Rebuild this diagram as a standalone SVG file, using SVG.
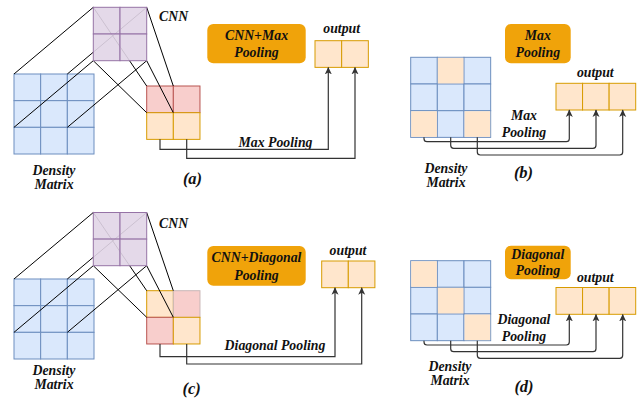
<svg xmlns="http://www.w3.org/2000/svg" width="644" height="399" viewBox="0 0 644 399">
<defs>
<style>
text{font-family:"Liberation Serif","Times New Roman",serif;font-weight:bold;font-style:italic;fill:#111;font-size:13.8px}
.c{text-anchor:middle}
.big{font-size:16.5px}
.blue{fill:#dae8fc;stroke:#6c8ebf;stroke-width:1}
.org{fill:#ffe6cc;stroke:#d79b00;stroke-width:1}
.orgf{fill:#ffe6cc;stroke:none}
.red{fill:#f8cecc;stroke:#b85450;stroke-width:1}
.pur{fill:#e1d5e7;fill-opacity:0.9;stroke:#9673a6;stroke-width:1}
.box{fill:#f0a30a;stroke:none}
.ln{stroke:#000;stroke-width:1;fill:none}
.con{stroke:#333;stroke-width:1.2;fill:none;marker-end:url(#arr)}
</style>
<marker id="arr" markerUnits="userSpaceOnUse" markerWidth="8" markerHeight="8" refX="7" refY="4" orient="auto">
<path d="M0,0.5 L7.5,4 L0,7.5 L2,4 Z" fill="#333"/>
</marker>
</defs>

<!-- Panel (a) -->
<g id="a-density">
<rect class="blue" x="14" y="74" width="26.67" height="26.67"/>
<rect class="blue" x="40.67" y="74" width="26.67" height="26.67"/>
<rect class="blue" x="67.33" y="74" width="26.67" height="26.67"/>
<rect class="blue" x="14" y="100.67" width="26.67" height="26.67"/>
<rect class="blue" x="40.67" y="100.67" width="26.67" height="26.67"/>
<rect class="blue" x="67.33" y="100.67" width="26.67" height="26.67"/>
<rect class="blue" x="14" y="127.33" width="26.67" height="26.67"/>
<rect class="blue" x="40.67" y="127.33" width="26.67" height="26.67"/>
<rect class="blue" x="67.33" y="127.33" width="26.67" height="26.67"/>
<text class="c" x="54" y="175">Density</text>
<text class="c" x="54" y="188.5">Matrix</text>
</g>
<g id="a-pool">
<rect class="red" x="146.7" y="86" width="26.67" height="26.67"/>
<rect class="red" x="173.3" y="86" width="26.67" height="26.67"/>
<rect class="org" x="146.7" y="112.7" width="26.67" height="26.67"/>
<rect class="org" x="173.3" y="112.7" width="26.67" height="26.67"/>
</g>
<g id="a-projection">
<line class="ln" x1="93.3" y1="7.3" x2="14" y2="74"/>
<line class="ln" x1="146.7" y1="7.3" x2="67.33" y2="74"/>
<line class="ln" x1="93.3" y1="60.7" x2="14" y2="127.33"/>
<line class="ln" x1="146.7" y1="60.7" x2="67.33" y2="127.33"/>
<line class="ln" x1="93.3" y1="7.3" x2="146.7" y2="86"/>
<line class="ln" x1="146.7" y1="7.3" x2="173.3" y2="86"/>
<line class="ln" x1="93.3" y1="60.7" x2="146.7" y2="112.7"/>
<line class="ln" x1="146.7" y1="60.7" x2="173.3" y2="112.7"/>
</g>
<g id="a-cnn">
<rect class="pur" x="93.3" y="7.3" width="26.7" height="26.7"/>
<rect class="pur" x="120" y="7.3" width="26.7" height="26.7"/>
<rect class="pur" x="93.3" y="34" width="26.7" height="26.7"/>
<rect class="pur" x="120" y="34" width="26.7" height="26.7"/>
<text x="159" y="20.7">CNN</text>
</g>
<g id="a-title">
<rect class="box" x="207.3" y="24" width="98.4" height="39.3" rx="6"/>
<text class="c" x="256.5" y="39.5">CNN+Max</text>
<text class="c" x="256.5" y="57.3">Pooling</text>
</g>
<g id="a-output">
<rect class="org" x="315" y="40.7" width="26.67" height="26.67"/>
<rect class="org" x="341.67" y="40.7" width="26.67" height="26.67"/>
<text class="c" x="341.7" y="33.3">output</text>
</g>
<text class="c big" x="192.5" y="184">(a)</text>

<!-- Panel (b) -->
<g id="b-density">
<rect class="blue" x="410.7" y="57.3" width="26.67" height="26.67"/>
<rect class="blue" x="437.3" y="57.3" width="26.67" height="26.67"/>
<rect class="blue" x="464" y="57.3" width="26.67" height="26.67"/>
<rect class="blue" x="410.7" y="84" width="26.67" height="26.67"/>
<rect class="blue" x="437.3" y="84" width="26.67" height="26.67"/>
<rect class="blue" x="464" y="84" width="26.67" height="26.67"/>
<rect class="blue" x="410.7" y="110.7" width="26.67" height="26.67"/>
<rect class="blue" x="437.3" y="110.7" width="26.67" height="26.67"/>
<rect class="blue" x="464" y="110.7" width="26.67" height="26.67"/>
<rect class="orgf" x="437.8" y="57.8" width="25.7" height="25.7"/>
<rect class="orgf" x="411.2" y="111.2" width="25.7" height="25.7"/>
<rect class="orgf" x="464.5" y="111.2" width="25.7" height="25.7"/>
<text class="c" x="446" y="173">Density</text>
<text class="c" x="446" y="187">Matrix</text>
</g>
<g id="b-title">
<rect class="box" x="505" y="24" width="65.7" height="39.3" rx="6"/>
<text class="c" x="537.8" y="39.5">Max</text>
<text class="c" x="537.8" y="57.3">Pooling</text>
</g>
<g id="b-output">
<rect class="org" x="556" y="83.3" width="26.57" height="26.7"/>
<rect class="org" x="582.57" y="83.3" width="26.57" height="26.7"/>
<rect class="org" x="609.13" y="83.3" width="26.57" height="26.7"/>
<text class="c" x="595.3" y="77.3">output</text>
</g>
<text class="c" x="524" y="120">Max</text>
<text class="c" x="524" y="136.7">Pooling</text>
<text class="c big" x="523.5" y="178.3">(b)</text>

<!-- Panel (c) -->
<g id="c-density">
<rect class="blue" x="14" y="279" width="26.67" height="26.67"/>
<rect class="blue" x="40.67" y="279" width="26.67" height="26.67"/>
<rect class="blue" x="67.33" y="279" width="26.67" height="26.67"/>
<rect class="blue" x="14" y="305.67" width="26.67" height="26.67"/>
<rect class="blue" x="40.67" y="305.67" width="26.67" height="26.67"/>
<rect class="blue" x="67.33" y="305.67" width="26.67" height="26.67"/>
<rect class="blue" x="14" y="332.33" width="26.67" height="26.67"/>
<rect class="blue" x="40.67" y="332.33" width="26.67" height="26.67"/>
<rect class="blue" x="67.33" y="332.33" width="26.67" height="26.67"/>
<text class="c" x="54" y="375">Density</text>
<text class="c" x="54" y="389">Matrix</text>
</g>
<g id="c-pool">
<rect class="org" x="146.7" y="290.7" width="26.67" height="26.67"/>
<rect fill="#f8cecc" stroke="#c9b8b8" stroke-width="1" x="173.3" y="290.7" width="26.67" height="26.67"/>
<rect class="red" x="146.7" y="317.3" width="26.67" height="26.67"/>
<rect class="org" x="173.3" y="317.3" width="26.67" height="26.67"/>
</g>
<g id="c-projection">
<line class="ln" x1="93.3" y1="212.5" x2="14" y2="279"/>
<line class="ln" x1="146.7" y1="212.5" x2="67.33" y2="279"/>
<line class="ln" x1="93.3" y1="265.7" x2="14" y2="332.33"/>
<line class="ln" x1="146.7" y1="265.7" x2="67.33" y2="332.33"/>
<line class="ln" x1="93.3" y1="212.5" x2="146.7" y2="290.7"/>
<line class="ln" x1="146.7" y1="212.5" x2="173.3" y2="290.7"/>
<line class="ln" x1="93.3" y1="265.7" x2="146.7" y2="317.3"/>
<line class="ln" x1="146.7" y1="265.7" x2="173.3" y2="317.3"/>
</g>
<g id="c-cnn">
<rect class="pur" x="93.3" y="212.5" width="26.7" height="26.6"/>
<rect class="pur" x="120" y="212.5" width="26.7" height="26.6"/>
<rect class="pur" x="93.3" y="239.1" width="26.7" height="26.6"/>
<rect class="pur" x="120" y="239.1" width="26.7" height="26.6"/>
<text x="159" y="228.3">CNN</text>
</g>
<g id="c-title">
<rect class="box" x="207.3" y="246" width="98.4" height="39.7" rx="6"/>
<text class="c" x="256.5" y="262">CNN+Diagonal</text>
<text class="c" x="256.5" y="280">Pooling</text>
</g>
<g id="c-output">
<rect class="org" x="321.7" y="261" width="26.6" height="26.7"/>
<rect class="org" x="348.3" y="261" width="26.6" height="26.7"/>
<text class="c" x="348" y="255">output</text>
</g>
<text class="c big" x="191.7" y="394">(c)</text>

<!-- Panel (d) -->
<g id="d-density">
<rect class="blue" x="410.7" y="260.7" width="26.67" height="26.67"/>
<rect class="blue" x="437.3" y="260.7" width="26.67" height="26.67"/>
<rect class="blue" x="464" y="260.7" width="26.67" height="26.67"/>
<rect class="blue" x="410.7" y="287.3" width="26.67" height="26.67"/>
<rect class="blue" x="437.3" y="287.3" width="26.67" height="26.67"/>
<rect class="blue" x="464" y="287.3" width="26.67" height="26.67"/>
<rect class="blue" x="410.7" y="314" width="26.67" height="26.67"/>
<rect class="blue" x="437.3" y="314" width="26.67" height="26.67"/>
<rect class="blue" x="464" y="314" width="26.67" height="26.67"/>
<rect class="orgf" x="411.2" y="261.2" width="25.7" height="25.7"/>
<rect class="orgf" x="437.8" y="287.8" width="25.7" height="25.7"/>
<rect class="orgf" x="464.5" y="314.5" width="25.7" height="25.7"/>
<text class="c" x="450" y="370.7">Density</text>
<text class="c" x="450" y="384.5">Matrix</text>
</g>
<g id="d-title">
<rect class="box" x="505" y="245.7" width="65.7" height="33.6" rx="6"/>
<text class="c" x="537.8" y="258.8">Diagonal</text>
<text class="c" x="537.8" y="275">Pooling</text>
</g>
<g id="d-output">
<rect class="org" x="556" y="287.5" width="26.57" height="26.8"/>
<rect class="org" x="582.57" y="287.5" width="26.57" height="26.8"/>
<rect class="org" x="609.13" y="287.5" width="26.57" height="26.8"/>
<text class="c" x="595.3" y="281.7">output</text>
</g>
<text class="c" x="524" y="324">Diagonal</text>
<text class="c" x="524" y="340.5">Pooling</text>
<text class="c big" x="524" y="391.7">(d)</text>

<text class="c" x="275.5" y="146.7">Max Pooling</text>
<text class="c" x="275" y="350">Diagonal Pooling</text>

<g id="connectors">
<path class="con" d="M160 139.3 V149.3 H328.3 V67.4" stroke="#666"/>
<path class="con" d="M186.7 139.3 V158.3 H355 V67.4"/>
<path class="con" d="M424 137.3 V138.7 Q424 141.7 427 141.7 H566.3 Q569.3 141.7 569.3 138.7 V110"/>
<path class="con" d="M450.7 137.3 V145.3 Q450.7 148.3 453.7 148.3 H593 Q596 148.3 596 145.3 V110"/>
<path class="con" d="M477.3 137.3 V152 Q477.3 155 480.3 155 H619.7 Q622.7 155 622.7 152 V110"/>
<path class="con" d="M160 344 V356.7 H335 V287.8"/>
<path class="con" d="M186.7 344 V364 H361.7 V287.8"/>
<path class="con" d="M424 340.7 V342 Q424 345 427 345 H566.3 Q569.3 345 569.3 342 V314.4"/>
<path class="con" d="M450.7 340.7 V348.7 Q450.7 351.7 453.7 351.7 H593 Q596 351.7 596 348.7 V314.4"/>
<path class="con" d="M477.3 340.7 V355.3 Q477.3 358.3 480.3 358.3 H619.7 Q622.7 358.3 622.7 355.3 V314.4"/>
</g>
</svg>
